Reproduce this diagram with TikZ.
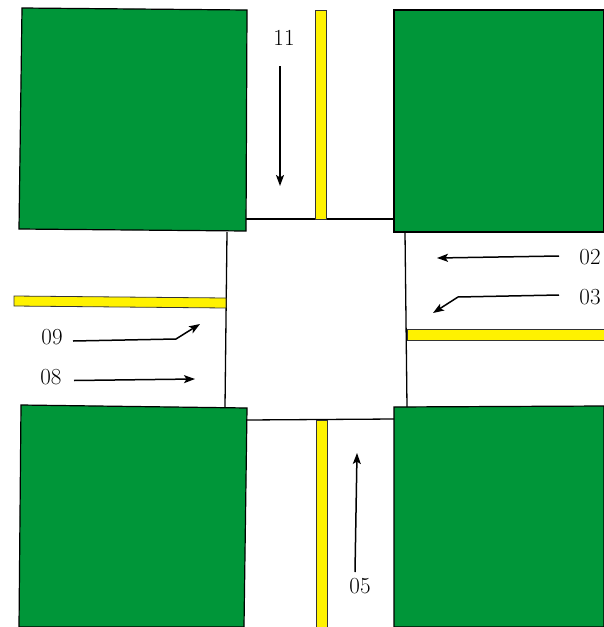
\documentclass[tikz,border=0pt]{standalone}
\usepackage{tikz}
\usetikzlibrary{arrows.meta}
\definecolor{blockgreen}{HTML}{009639}
\definecolor{lineyellow}{HTML}{FFF200}
\tikzset{
  block/.style={fill=blockgreen, draw=black, line width=1.2pt},
  median/.style={fill=lineyellow, draw=black!80, line width=0.8pt},
  kerb/.style={draw=black, line width=1.3pt},
  lane/.style={-{Stealth[length=11pt,width=8pt,inset=2.5pt]}, line width=1.5pt},
  lanenum/.style={font=\fontsize{23}{25}\selectfont, text=black, inner sep=0pt}
}
\begin{document}
\begin{tikzpicture}[x=1pt, y=-1pt]
	\useasboundingbox (0,0) rectangle (604,627);
	% junction edges
	\draw[kerb] (246,219) -- (394,219);
	\draw[kerb] (247,420) -- (394,419);
	\draw[kerb] (227,232) -- (225,407);
	\draw[kerb] (405,232) -- (407,407);
	% centre lines
	\draw[median] (315,10) -- (326,10) -- (326,219) -- (315,219) -- cycle;
	\draw[median] (316,420) -- (327,420) -- (327,627) -- (316,627) -- cycle;
	\draw[median] (14,296) -- (226,298) -- (226,308) -- (14,306) -- cycle;
	\draw[median] (407,329) -- (604,329) -- (604,340) -- (407,340) -- cycle;
	% corner blocks
	\draw[block] (22,8) -- (247,10) -- (246,231) -- (19,229) -- cycle;
	\draw[block] (394,10) -- (604,10) -- (604,232) -- (394,232) -- cycle;
	\draw[block] (21,405) -- (247,408) -- (244,627) -- (19,627) -- cycle;
	\draw[block] (394,407) -- (604,406) -- (604,627) -- (394,627) -- cycle;
	% lane numbers
	\node[lanenum] (n11) at (284,38) {11};
	\node[lanenum] (n02) at (590,257) {02};
	\node[lanenum] (n03) at (590,297) {03};
	\node[lanenum] (n09) at (52,337) {09};
	\node[lanenum] (n08) at (51,377) {08};
	\node[lanenum] (n05) at (360,586) {05};
	% lane arrows
	\draw[lane] (280,66) -- (280,186);
	\draw[lane] (355,572) -- (357,453);
	\draw[lane] (559,256) -- (437,258);
	\draw[lane] (559,295) -- (458,297) -- (433,313);
	\draw[lane] (73,341) -- (176,339) -- (200,324);
	\draw[lane] (74,380.5) -- (195,379);
\end{tikzpicture}
\end{document}
